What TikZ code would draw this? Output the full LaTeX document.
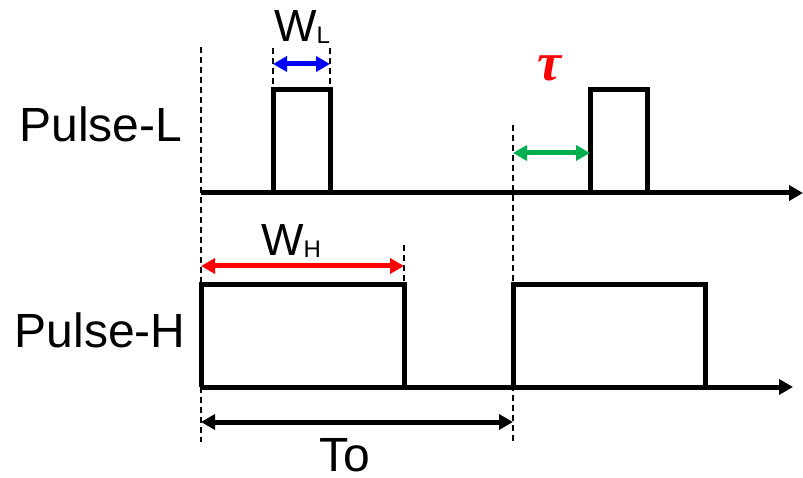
\documentclass[tikz,border=0pt]{standalone}
\usepackage{fontspec}
\setmainfont{Liberation Sans}
\newfontfamily\taufont{Liberation Serif}
\usepackage{xcolor}
\usepackage{tikz}
\usetikzlibrary{arrows.meta}

\definecolor{wlblue}{RGB}{0,0,255}
\definecolor{whred}{RGB}{255,0,0}
\definecolor{taugreen}{RGB}{0,176,80}
\newcommand{\wsub}[1]{W\raisebox{-2pt}{\fontsize{24}{24}\selectfont #1}}

\begin{document}
\begin{tikzpicture}[
  x=1pt, y=-1pt,
  axis/.style={line width=5pt, -{Triangle[length=14pt, width=15pt]}},
  pulse/.style={line width=5pt, line join=miter},
  guide/.style={line width=1.5pt, dash pattern=on 6pt off 4pt},
  dim/.style={line width=5pt,
    {Triangle[length=14pt, width=15pt]}-{Triangle[length=14pt, width=15pt]}},
  lbl/.style={font=\fontsize{48}{52}\selectfont, inner sep=0pt, anchor=base},
  wlbl/.style={lbl, font=\fontsize{45}{50}\selectfont, anchor=base west},
]
\useasboundingbox (0,0) rectangle (803,478);

% guides
\draw[guide] (201,47) -- (201,442);
\draw[guide] (273,48) -- (273,90);
\draw[guide] (330,48) -- (330,90);
\draw[guide] (513,125) -- (513,443);
\draw[guide] (404,245) -- (404,285);

% Pulse-L
\node[lbl] (PL) at (101,142) {Pulse-L};
\coordinate (L0) at (201,193);
\coordinate (L1) at (803,193);
\draw[axis] (L0) -- (L1);
\draw[pulse] (273,193) |- (330,90) -- (330,193);
\draw[pulse] (590,193) |- (647,90) -- (647,193);

% Pulse-H
\node[lbl] (PH) at (100,347) {Pulse-H};
\coordinate (H0) at (201,387);
\coordinate (H1) at (793,387);
\draw[axis] (H0) -- (H1);
\draw[pulse] (201,387) |- (404,285) -- (404,387);
\draw[pulse] (513,387) |- (705,285) -- (705,387);

% widths and delay
\coordinate (wl1) at (273,64); \coordinate (wl2) at (330,64);
\draw[dim, wlblue] (wl1) -- (wl2);
\node[wlbl] (WL) at (274,42) {\wsub{L}};

\coordinate (tau1) at (513,153); \coordinate (tau2) at (590,153);
\draw[dim, taugreen] (tau1) -- (tau2);
\node[text=red, inner sep=0pt,
  font=\fontsize{54}{58}\selectfont\taufont\bfseries\itshape]
  (tau) at (549,68) {τ};

\coordinate (wh1) at (201,266); \coordinate (wh2) at (404,266);
\draw[dim, whred] (wh1) -- (wh2);
\node[wlbl] (WH) at (261,256) {\wsub{H}};

% period
\coordinate (to1) at (201,422); \coordinate (to2) at (513,422);
\draw[dim, black] (to1) -- (to2);
\node[lbl, text depth=0pt] (To) at (345,471) {To};
\end{tikzpicture}
\end{document}
